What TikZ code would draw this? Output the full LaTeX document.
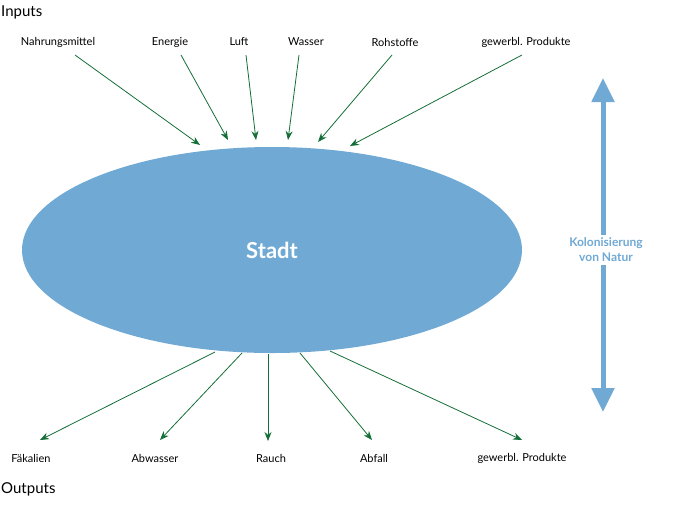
\documentclass[tikz,border=0pt]{standalone}
\usepackage{fontspec}
\setmainfont{Lato}
\usetikzlibrary{shapes.geometric,arrows.meta}
\definecolor{cityblue}{RGB}{111,169,212}
\definecolor{arrgreen}{RGB}{20,110,55}
\begin{document}
\begin{tikzpicture}[x=1pt,y=-1pt,
  lbl/.style={font=\fontsize{11}{13}\selectfont, inner sep=1pt},
  big/.style={font=\fontsize{15}{18}\selectfont, inner sep=0pt, anchor=west},
  flow/.style={draw=arrgreen, line width=0.8pt, -{Stealth[length=9pt,width=7pt]}}]
\useasboundingbox (0,0) rectangle (674,504);
\node[ellipse, fill=cityblue, minimum width=500pt, minimum height=206pt, inner sep=0pt] (city) at (272,250) {};
\node[text=white, font=\bfseries\fontsize{22}{26}\selectfont] at (city) {Stadt};
\node[big] (in) at (1,12) {Inputs};
\node[big] (out) at (1,489) {Outputs};
\node[lbl] (n1) at (58,42) {Nahrungsmittel};
\node[lbl] (n2) at (170,42) {Energie};
\node[lbl] (n3) at (239,42) {Luft};
\node[lbl] (n4) at (306,42) {Wasser};
\node[lbl] (n5) at (395,42) {Rohstoffe};
\node[lbl] (n6) at (526,42) {gewerbl. Produkte};
\coordinate (e1) at (200,145); \coordinate (e2) at (228,140);
\coordinate (e3) at (256,140); \coordinate (e4) at (288,140);
\coordinate (e5) at (318,142); \coordinate (e6) at (350,146);
\draw[flow] (75,55) -- (e1);
\draw[flow] (181,55) -- (e2);
\draw[flow] (246,55) -- (e3);
\draw[flow] (299,55) -- (e4);
\draw[flow] (392,55) -- (e5);
\draw[flow] (522,55) -- (e6);
\node[lbl] (o1) at (31,458) {Fäkalien};
\node[lbl] (o2) at (155,458) {Abwasser};
\node[lbl] (o3) at (271,458) {Rauch};
\node[lbl] (o4) at (374,458) {Abfall};
\node[lbl] (o5) at (522,458) {gewerbl. Produkte};
\coordinate (s1) at (215,352); \coordinate (s2) at (242,353);
\coordinate (s3) at (268,354); \coordinate (s4) at (300,353);
\coordinate (s5) at (330,351);
\draw[flow] (s1) -- (40,440);
\draw[flow] (s2) -- (160,440);
\draw[flow] (s3) -- (268,441);
\draw[flow] (s4) -- (372,440);
\draw[flow] (s5) -- (522,440);
\coordinate (top) at (603,78); \coordinate (bot) at (603,412);
\draw[cityblue, line width=5pt, {Triangle[length=24pt,width=22pt]}-{Triangle[length=24pt,width=22pt]}] (top) -- (bot);
\node[fill=white, text=cityblue, font=\bfseries\fontsize{12}{15}\selectfont, align=center, inner sep=3pt] (kol) at (606,250) {Kolonisierung\\von Natur};
\end{tikzpicture}
\end{document}
